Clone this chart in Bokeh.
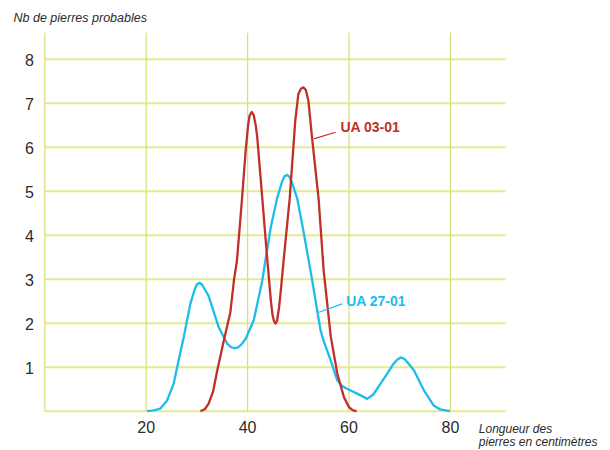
from bokeh.plotting import figure
from bokeh.models import Range1d, Label
from bokeh.core.properties import value
from bokeh.embed import file_html
from bokeh.resources import INLINE

# --- data ---
x_ticks = [20, 40, 60, 80]
y_ticks = [1, 2, 3, 4, 5, 6, 7, 8]
x_grid = [0, 20, 40, 60, 80]
y_grid = [0, 1, 2, 3, 4, 5, 6, 7, 8]
x_grid_top = 8.6      # top end of vertical grid lines
y_grid_right = 90.9   # right end of horizontal grid lines

ua0301_x = [30.7, 31.6, 32.3, 33.2, 34.0, 35.3, 36.6, 37.3, 37.9, 38.9, 39.6, 40.1, 40.4, 40.8,
            41.2, 41.6, 41.9, 42.9, 43.9, 44.6, 44.9, 45.2, 45.5, 45.8, 46.2, 46.6, 47.1, 48.3,
            49.4, 50.0, 50.5, 51.0, 51.5, 52.0, 52.7, 54.0, 55.0, 56.4, 57.7, 59.0, 60.0, 60.8,
            61.5]
ua0301_y = [0.0, 0.05, 0.17, 0.45, 0.92, 1.6, 2.25, 2.97, 3.42, 4.83, 5.9, 6.5, 6.72, 6.8,
            6.73, 6.5, 6.23, 4.83, 3.42, 2.5, 2.2, 2.05, 1.99, 2.05, 2.35, 2.8, 3.42, 4.83,
            6.6, 7.2, 7.33, 7.36, 7.3, 7.05, 6.23, 4.83, 3.2, 1.7, 0.85, 0.32, 0.09, 0.02,
            0.0]

ua2701_x = [20.2, 21.5, 22.8, 24.1, 25.4, 26.1, 27.4, 28.7, 29.6, 30.0, 30.5, 31.0, 31.4, 32.3,
            34.3, 36.0, 36.7, 37.4, 38.1, 38.8, 39.6, 41.2, 42.9, 43.5, 44.6, 45.8, 46.8, 47.3,
            47.8, 48.3, 48.8, 49.8, 51.0, 52.4, 54.4, 55.0, 56.4, 57.7, 58.6, 59.6, 61.6, 63.6,
            64.8, 66.2, 67.5, 68.8, 69.5, 70.2, 70.9, 71.6, 72.8, 74.8, 76.7, 78.0, 79.9]
ua2701_y = [0.0, 0.02, 0.06, 0.24, 0.62, 1.0, 1.68, 2.44, 2.78, 2.88, 2.92, 2.88, 2.8, 2.62,
            1.91, 1.53, 1.46, 1.43, 1.45, 1.52, 1.64, 2.06, 2.97, 3.42, 4.2, 4.83, 5.22, 5.34,
            5.37, 5.32, 5.18, 4.83, 4.1, 3.2, 1.83, 1.6, 1.15, 0.7, 0.58, 0.51, 0.40, 0.28,
            0.38, 0.62, 0.85, 1.08, 1.17, 1.22, 1.19, 1.1, 0.93, 0.47, 0.13, 0.04, 0.0]

RED = "#C0302A"
BLUE = "#1CBDEB"
TXT = "#2b2b2b"
FONT = "Liberation Sans"

# the plotting frame covers the whole canvas; x=0 and y=0 sit where the reference puts them
p = figure(width=610, height=450, output_backend="svg", toolbar_location=None,
           x_range=Range1d(-8.74, 111.58), y_range=Range1d(-0.893, 9.334),
           x_axis_location=None, y_axis_location=None,
           min_border=0, min_border_left=0, min_border_right=0,
           min_border_top=0, min_border_bottom=0)
p.outline_line_color = None
p.xgrid.visible = False
p.ygrid.visible = False
p.background_fill_color = "white"
p.border_fill_color = "white"

# grid lines
p.segment(x0=[0] * len(y_grid), y0=y_grid, x1=[y_grid_right] * len(y_grid), y1=y_grid,
          line_color="#E3EA90", line_width=2)
p.segment(x0=x_grid, y0=[0] * len(x_grid), x1=x_grid, y1=[x_grid_top] * len(x_grid),
          line_color="#D8E27C", line_width=1.3)

# tick labels
p.text(x=x_ticks, y=[-0.364] * len(x_ticks), text=[str(t) for t in x_ticks],
       text_font=value(FONT), text_font_size=value("16px"), text_color=TXT,
       text_align="center", text_baseline="middle")
p.text(x=[-2.17] * len(y_ticks), y=y_ticks, text=[str(t) for t in y_ticks],
       text_font=value(FONT), text_font_size=value("16px"), text_color=TXT,
       text_align="right", text_baseline="middle", y_offset=1)

# curves
p.line(ua2701_x, ua2701_y, line_color=BLUE, line_width=2.3, line_join="round")
p.line(ua0301_x, ua0301_y, line_color=RED, line_width=2.3, line_join="round")

# leader lines
p.segment(x0=[53.06], y0=[6.19], x1=[57.34], y1=[6.34], line_color=RED, line_width=1.2)
p.segment(x0=[54.04], y0=[2.25], x1=[58.66], y1=[2.44], line_color=BLUE, line_width=1.2)

# series labels
p.add_layout(Label(x=58.3, y=6.45, text="UA 03-01", text_font=FONT, text_font_style="bold",
                   text_font_size="14px", text_color=RED, text_baseline="middle"))
p.add_layout(Label(x=59.45, y=2.5, text="UA 27-01", text_font=FONT, text_font_style="bold",
                   text_font_size="14px", text_color=BLUE, text_baseline="middle"))

# axis titles
p.add_layout(Label(x=-6.17, y=8.94, text="Nb de pierres probables", text_font=FONT,
                   text_font_style="italic", text_font_size="12.5px", text_color=TXT,
                   text_baseline="alphabetic"))
p.add_layout(Label(x=85.6, y=-0.40, text="Longueur des", text_font=FONT,
                   text_font_style="italic", text_font_size="12px", text_color=TXT,
                   text_baseline="alphabetic"))
p.add_layout(Label(x=85.6, y=-0.69, text="pierres en centimètres", text_font=FONT,
                   text_font_style="italic", text_font_size="12px", text_color=TXT,
                   text_baseline="alphabetic"))

open("out.html", "w").write(file_html(p, INLINE))
